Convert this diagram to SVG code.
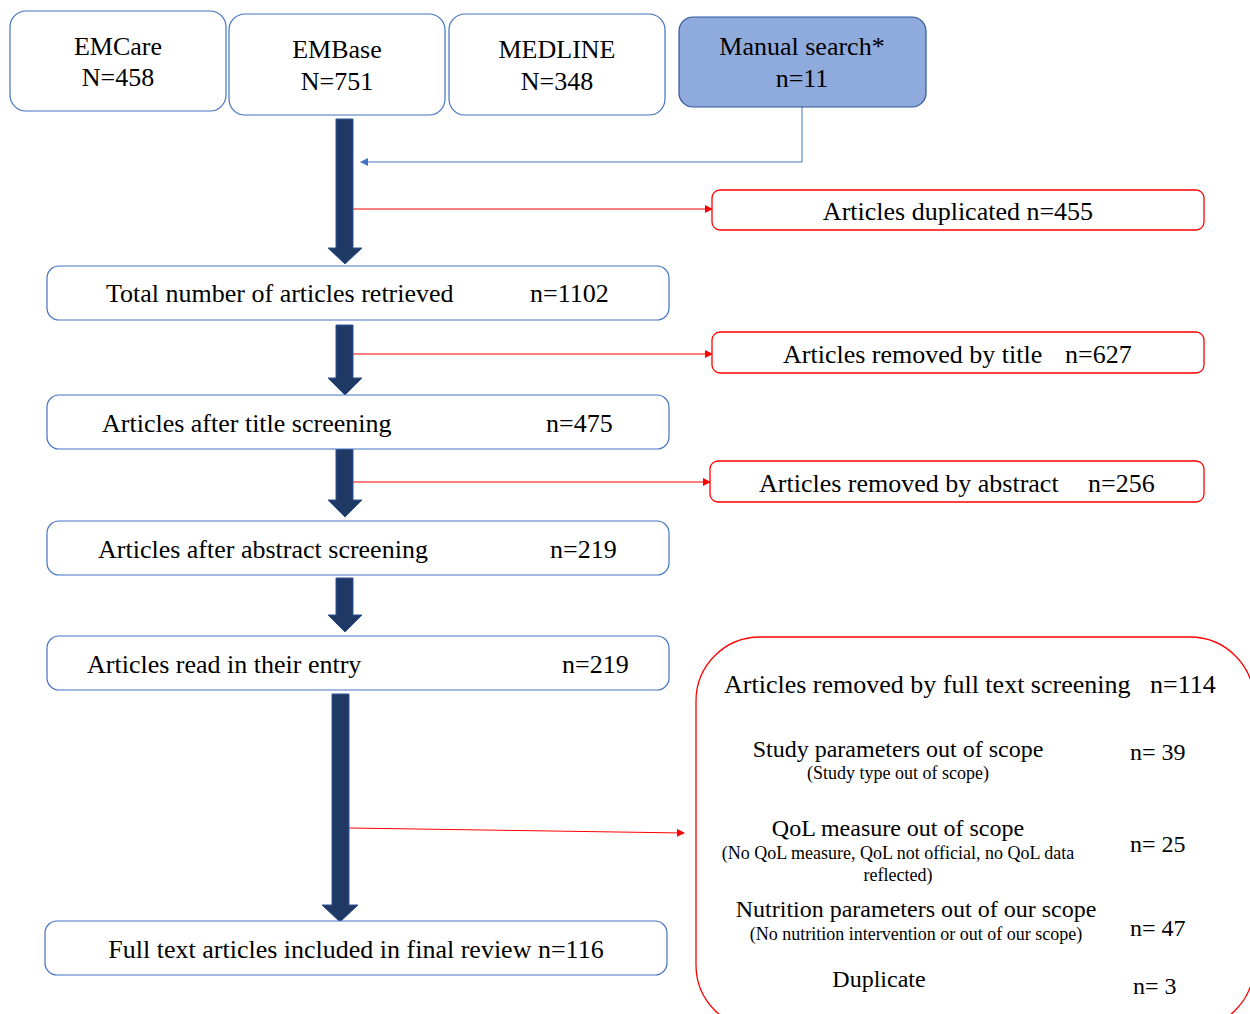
<svg xmlns="http://www.w3.org/2000/svg" width="1250" height="1014" viewBox="0 0 1250 1014">
<style>
text{font-family:"Liberation Serif","Times New Roman",serif;fill:#000;}
.t{font-size:26px;}
.m{font-size:24px;}
.s{font-size:18px;}
.c{text-anchor:middle;}
.bx{fill:#fff;stroke:#4472C4;stroke-width:1.2;}
.rb{fill:#fff;stroke:#FF0000;stroke-width:1.3;}
.big{fill:#203864;stroke:#2F5597;stroke-width:1;}
.rl{stroke:#FF0000;stroke-width:1;fill:none;}
.bl{stroke:#4472C4;stroke-width:1;fill:none;}
</style>
<defs>
<marker id="ra" markerWidth="8" markerHeight="8" refX="7" refY="4" orient="auto" markerUnits="userSpaceOnUse">
<path d="M0,0 L8,4 L0,8 Z" fill="#FF0000"/>
</marker>
<marker id="ba" markerWidth="8" markerHeight="8" refX="7" refY="4" orient="auto" markerUnits="userSpaceOnUse">
<path d="M0,0 L8,4 L0,8 Z" fill="#4472C4"/>
</marker>
</defs>
<rect width="1250" height="1014" fill="#fff"/>

<g id="emcare"><rect class="bx" x="10" y="11" width="216" height="100" rx="16"/>
<text class="t c" x="118" y="55">EMCare</text><text class="t c" x="118" y="86">N=458</text></g>
<g id="embase"><rect class="bx" x="229" y="14" width="216" height="101" rx="16"/>
<text class="t c" x="337" y="58">EMBase</text><text class="t c" x="337" y="90">N=751</text></g>
<g id="medline"><rect class="bx" x="449" y="14" width="216" height="101" rx="16"/>
<text class="t c" x="557" y="58">MEDLINE</text><text class="t c" x="557" y="90">N=348</text></g>
<g id="manual"><rect x="679" y="17" width="247" height="90" rx="14" fill="#8FAADC" stroke="#2F5597" stroke-width="1.2"/>
<text class="t c" x="802" y="55">Manual search*</text><text class="t c" x="802" y="87">n=11</text></g>

<g id="connectors">
<path class="big" d="M336,119 H353 V248 H362 L345,264 L328,248 H336 Z"/>
<path class="big" d="M336,325 H353 V378 H362 L345,395 L328,378 H336 Z"/>
<path class="big" d="M336,447 H353 V500 H362 L345,517 L328,500 H336 Z"/>
<path class="big" d="M336,578 H353 V615 H362 L345,632 L328,615 H336 Z"/>
<path class="big" d="M332,694 H349 V905 H358 L340,922 L322,905 H332 Z"/>
<path class="bl" d="M802,107 V162 H361" marker-end="url(#ba)"/>
<line class="rl" x1="353" y1="209" x2="712" y2="209" marker-end="url(#ra)"/>
<line class="rl" x1="353" y1="354" x2="712" y2="354" marker-end="url(#ra)"/>
<line class="rl" x1="353" y1="482" x2="710" y2="482" marker-end="url(#ra)"/>
<line class="rl" x1="349" y1="828" x2="684" y2="833" marker-end="url(#ra)"/>
</g>

<g id="dup"><rect class="rb" x="712" y="190" width="492" height="40" rx="8"/>
<text class="t c" x="958" y="220">Articles duplicated n=455</text></g>
<g id="total"><rect class="bx" x="47" y="266" width="622" height="54" rx="12"/>
<text class="t" x="106" y="302">Total number of articles retrieved</text><text class="t" x="530" y="302">n=1102</text></g>
<g id="rtitle"><rect class="rb" x="712" y="332" width="492" height="41" rx="8"/>
<text class="t" x="783" y="363">Articles removed by title</text><text class="t" x="1065" y="363">n=627</text></g>
<g id="atitle"><rect class="bx" x="47" y="395" width="622" height="54" rx="12"/>
<text class="t" x="102" y="432">Articles after title screening</text><text class="t" x="546" y="432">n=475</text></g>
<g id="rabs"><rect class="rb" x="710" y="461" width="494" height="41" rx="8"/>
<text class="t" x="759" y="492">Articles removed by abstract</text><text class="t" x="1088" y="492">n=256</text></g>
<g id="aabs"><rect class="bx" x="47" y="521" width="622" height="54" rx="12"/>
<text class="t" x="98" y="558">Articles after abstract screening</text><text class="t" x="550" y="558">n=219</text></g>
<g id="read"><rect class="bx" x="47" y="636" width="622" height="54" rx="12"/>
<text class="t" x="87" y="673">Articles read in their entry</text><text class="t" x="562" y="673">n=219</text></g>
<g id="final"><rect class="bx" x="45" y="921" width="622" height="54" rx="12"/>
<text class="t c" x="356" y="958">Full text articles included in final review n=116</text></g>

<g id="fulltext"><rect class="rb" x="696" y="637" width="558" height="392" rx="64"/>
<text class="t" x="724" y="693">Articles removed by full text screening</text>
<text class="t" x="1150" y="693">n=114</text>
<text class="m c" x="898" y="757">Study parameters out of scope</text>
<text class="s c" x="898" y="779">(Study type out of scope)</text>
<text class="m" x="1130" y="760">n= 39</text>
<text class="m c" x="898" y="836">QoL measure out of scope</text>
<text class="s c" x="898" y="859">(No QoL measure, QoL not official, no QoL data</text>
<text class="s c" x="898" y="881">reflected)</text>
<text class="m" x="1130" y="852">n= 25</text>
<text class="m c" x="916" y="917">Nutrition parameters out of our scope</text>
<text class="s c" x="916" y="940">(No nutrition intervention or out of our scope)</text>
<text class="m" x="1130" y="936">n= 47</text>
<text class="m c" x="879" y="987">Duplicate</text>
<text class="m" x="1133" y="994">n= 3</text>
</g>
</svg>
